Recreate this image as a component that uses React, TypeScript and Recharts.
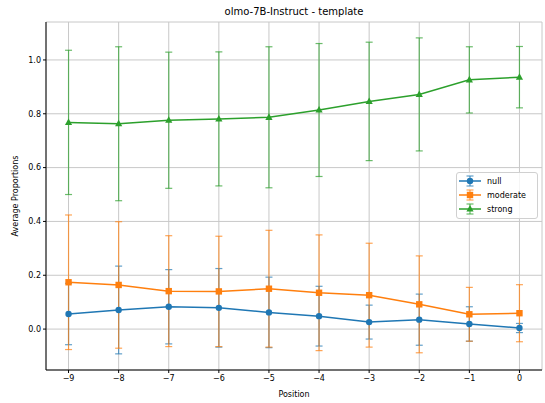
import {
  CartesianGrid,
  ComposedChart,
  ErrorBar,
  Legend,
  Line,
  XAxis,
  YAxis,
} from "recharts";

const positions = [-9, -8, -7, -6, -5, -4, -3, -2, -1, 0];

const nullMean = [0.056, 0.071, 0.083, 0.079, 0.062, 0.048, 0.026, 0.035, 0.019, 0.004];
const nullErr = [0.114, 0.163, 0.138, 0.146, 0.131, 0.111, 0.063, 0.095, 0.064, 0.017];

const moderateMean = [0.174, 0.164, 0.141, 0.14, 0.15, 0.135, 0.126, 0.092, 0.055, 0.059];
const moderateErr = [0.25, 0.235, 0.206, 0.205, 0.217, 0.215, 0.193, 0.18, 0.1, 0.106];

const strongMean = [0.768, 0.763, 0.776, 0.781, 0.787, 0.814, 0.846, 0.872, 0.926, 0.936];
const strongErr = [0.268, 0.286, 0.253, 0.249, 0.262, 0.247, 0.22, 0.21, 0.123, 0.114];

const xTicks = [-9, -8, -7, -6, -5, -4, -3, -2, -1, 0];
const yTicks = [0, 0.2, 0.4, 0.6, 0.8, 1.0];

const BLUE = "#1f77b4";
const ORANGE = "#ff7f0e";
const GREEN = "#2ca02c";
const FONT = "'DejaVu Sans', sans-serif";

const data = positions.map((p, i) => ({
  pos: p,
  nullMean: nullMean[i],
  nullErr: nullErr[i],
  moderateMean: moderateMean[i],
  moderateErr: moderateErr[i],
  strongMean: strongMean[i],
  strongErr: strongErr[i],
}));

type Shape = "circle" | "square" | "triangle";

function Marker({ cx, cy, shape, color }: { cx: number; cy: number; shape: Shape; color: string }) {
  if (cx == null || cy == null) return null;
  if (shape === "circle") return <circle cx={cx} cy={cy} r={3.2} fill={color} />;
  if (shape === "square") return <rect x={cx - 3.2} y={cy - 3.2} width={6.4} height={6.4} fill={color} />;
  return <polygon points={`${cx},${cy - 4} ${cx - 3.6},${cy + 2.6} ${cx + 3.6},${cy + 2.6}`} fill={color} />;
}

const legendItems: { label: string; color: string; shape: Shape }[] = [
  { label: "null", color: BLUE, shape: "circle" },
  { label: "moderate", color: ORANGE, shape: "square" },
  { label: "strong", color: GREEN, shape: "triangle" },
];

function LegendBox() {
  return (
    <div
      style={{
        background: "rgba(255,255,255,0.8)",
        border: "1px solid #d0d0d0",
        borderRadius: 3,
        padding: "1px 6px 2px 1px",
        fontFamily: FONT,
        fontSize: 8,
        color: "#000",
      }}
    >
      {legendItems.map((it) => (
        <div key={it.label} style={{ display: "flex", alignItems: "center", height: 14 }}>
          <svg width={24} height={12} style={{ marginRight: 5 }}>
            <line x1={1} y1={6} x2={23} y2={6} stroke={it.color} strokeWidth={1.5} />
            <line x1={12} y1={1} x2={12} y2={11} stroke={it.color} strokeWidth={1.2} strokeOpacity={0.7} />
            <line x1={8.5} y1={1} x2={15.5} y2={1} stroke={it.color} strokeWidth={1.2} strokeOpacity={0.7} />
            <line x1={8.5} y1={11} x2={15.5} y2={11} stroke={it.color} strokeWidth={1.2} strokeOpacity={0.7} />
            <Marker cx={12} cy={6} shape={it.shape} color={it.color} />
          </svg>
          <span>{it.label}</span>
        </div>
      ))}
    </div>
  );
}

const fmtX = (v: number) => (v < 0 ? "\u2212" + Math.abs(v) : String(v));

export default function App() {
  const tick = { fontSize: 8, fill: "#000", fontFamily: FONT };
  return (
    <div style={{ position: "fixed", left: 0, top: 0, width: 545, height: 403, background: "#fff" }}>
      <div
        style={{
          position: "absolute",
          left: 46,
          width: 496,
          top: 6,
          textAlign: "center",
          fontFamily: FONT,
          fontSize: 10,
        }}
      >
        olmo-7B-Instruct - template
      </div>
      <ComposedChart
        width={545}
        height={403}
        data={data}
        margin={{ top: 22, right: 3, bottom: 0, left: 0 }}
      >
        <CartesianGrid stroke="#c8c8c8" strokeWidth={1} />
        <XAxis
          dataKey="pos"
          type="number"
          domain={[-9.45, 0.45]}
          ticks={xTicks}
          tickFormatter={fmtX}
          tick={tick}
          tickSize={3}
          tickLine={{ stroke: "#000" }}
          axisLine={{ stroke: "#000" }}
          height={33}
          allowDataOverflow
          label={{ value: "Position", position: "insideBottom", offset: 6, style: { ...tick, textAnchor: "middle" } }}
        />
        <XAxis xAxisId="top" orientation="top" dataKey="pos" type="number" domain={[-9.45, 0.45]} height={0} tick={false} tickLine={false} axisLine={{ stroke: "#000" }} allowDataOverflow />
        <YAxis
          type="number"
          domain={[-0.152, 1.141]}
          ticks={yTicks}
          tickFormatter={(v: number) => v.toFixed(1)}
          tick={tick}
          tickSize={3}
          tickLine={{ stroke: "#000" }}
          axisLine={{ stroke: "#000" }}
          width={46}
          allowDataOverflow
          label={{ value: "Average Proportions", angle: -90, position: "insideLeft", offset: 15, style: { ...tick, textAnchor: "middle" } }}
        />
        <YAxis yAxisId="right" orientation="right" type="number" domain={[-0.152, 1.141]} width={0} tick={false} tickLine={false} axisLine={{ stroke: "#000" }} allowDataOverflow />
        <Legend
          layout="vertical"
          align="center"
          verticalAlign="middle"
          content={() => <LegendBox />}
          wrapperStyle={{ left: 456, top: 172, width: 82 }}
        />
        <Line
          dataKey="nullMean"
          name="null"
          stroke={BLUE}
          strokeWidth={1.5}
          isAnimationActive={false}
          dot={(p: any) => <Marker key={p.index} cx={p.cx} cy={p.cy} shape="circle" color={BLUE} />}
          activeDot={false}
        >
          <ErrorBar dataKey="nullErr" direction="y" width={3.5} stroke={BLUE} strokeOpacity={0.7} strokeWidth={1.2} isAnimationActive={false} />
        </Line>
        <Line
          dataKey="moderateMean"
          name="moderate"
          stroke={ORANGE}
          strokeWidth={1.5}
          isAnimationActive={false}
          dot={(p: any) => <Marker key={p.index} cx={p.cx} cy={p.cy} shape="square" color={ORANGE} />}
          activeDot={false}
        >
          <ErrorBar dataKey="moderateErr" direction="y" width={3.5} stroke={ORANGE} strokeOpacity={0.7} strokeWidth={1.2} isAnimationActive={false} />
        </Line>
        <Line
          dataKey="strongMean"
          name="strong"
          stroke={GREEN}
          strokeWidth={1.5}
          isAnimationActive={false}
          dot={(p: any) => <Marker key={p.index} cx={p.cx} cy={p.cy} shape="triangle" color={GREEN} />}
          activeDot={false}
        >
          <ErrorBar dataKey="strongErr" direction="y" width={3.5} stroke={GREEN} strokeOpacity={0.7} strokeWidth={1.2} isAnimationActive={false} />
        </Line>
      </ComposedChart>
    </div>
  );
}
